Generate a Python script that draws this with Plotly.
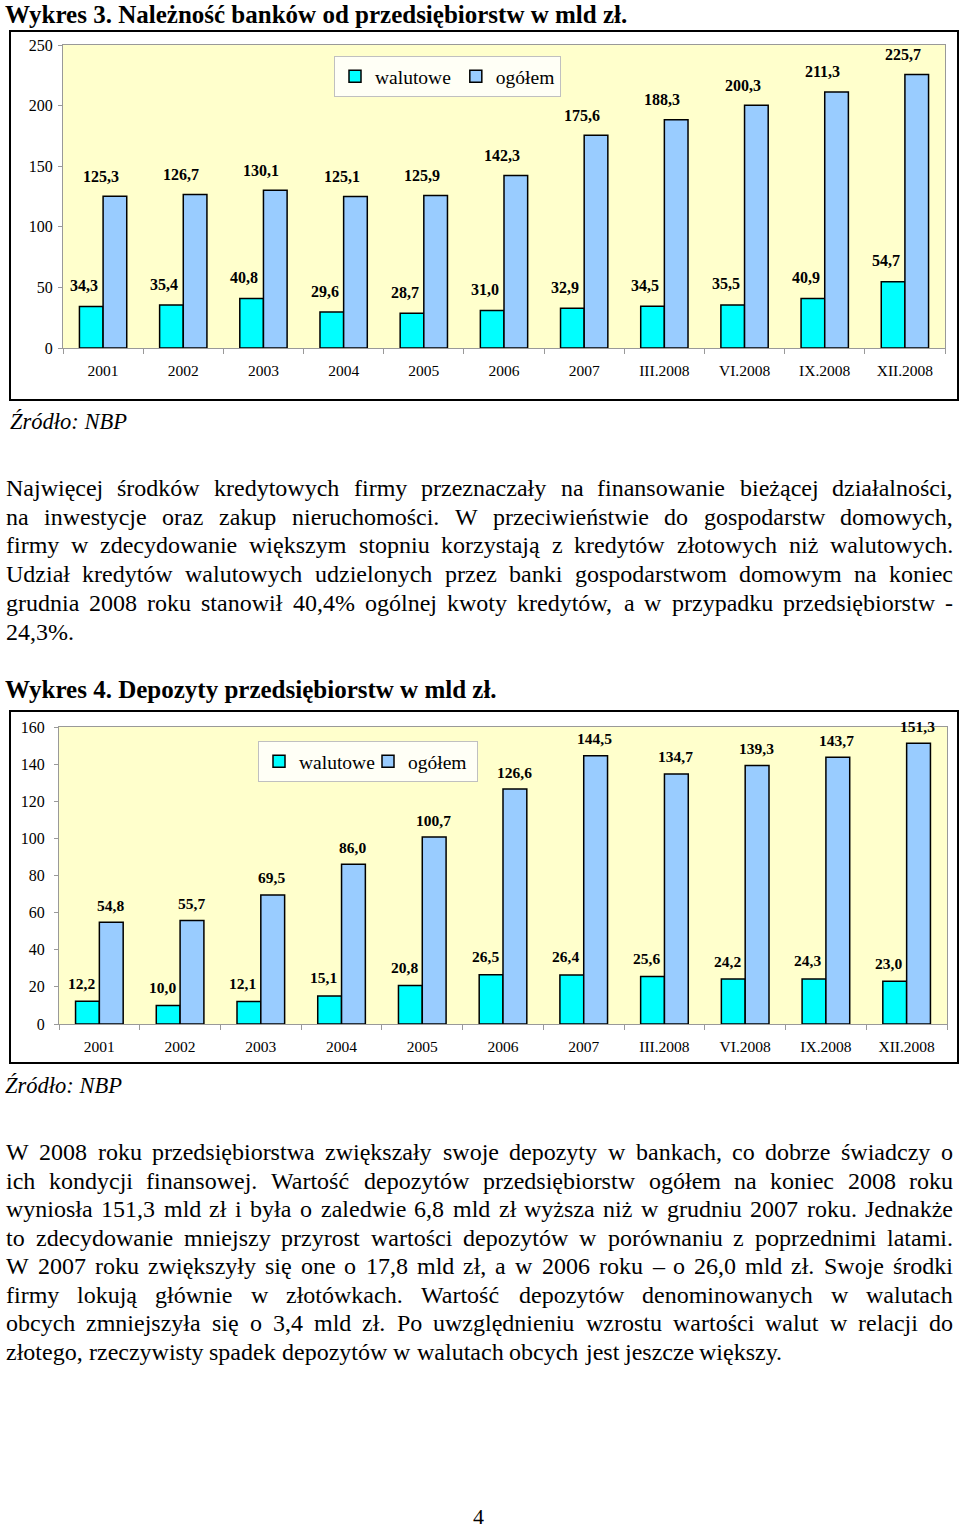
import plotly.graph_objects as go

# ---------------- data ----------------
categories = ["2001", "2002", "2003", "2004", "2005", "2006", "2007",
              "III.2008", "VI.2008", "IX.2008", "XII.2008"]
series_names = ["walutowe", "ogółem"]

loans_fx = [34.3, 35.4, 40.8, 29.6, 28.7, 31.0, 32.9, 34.5, 35.5, 40.9, 54.7]
loans_total = [125.3, 126.7, 130.1, 125.1, 125.9, 142.3, 175.6, 188.3, 200.3, 211.3, 225.7]

dep_fx = [12.2, 10.0, 12.1, 15.1, 20.8, 26.5, 26.4, 25.6, 24.2, 24.3, 23.0]
dep_total = [54.8, 55.7, 69.5, 86.0, 100.7, 126.6, 144.5, 134.7, 139.3, 143.7, 151.3]

title1 = "Wykres 3. Należność banków od przedsiębiorstw w mld zł."
title2 = "Wykres 4. Depozyty przedsiębiorstw w mld zł."
source = "Źródło: NBP"

para1 = [
    "Najwięcej środków kredytowych firmy przeznaczały na finansowanie bieżącej działalności,",
    "na inwestycje oraz zakup nieruchomości. W przeciwieństwie do gospodarstw domowych,",
    "firmy w zdecydowanie większym stopniu korzystają z kredytów złotowych niż walutowych.",
    "Udział kredytów walutowych udzielonych przez banki gospodarstwom domowym na koniec",
    "grudnia 2008 roku stanowił 40,4% ogólnej kwoty kredytów, a w przypadku przedsiębiorstw -",
    "24,3%.",
]
para2 = [
    "W 2008 roku przedsiębiorstwa zwiększały swoje depozyty w bankach, co dobrze świadczy o",
    "ich kondycji finansowej. Wartość depozytów przedsiębiorstw ogółem na koniec 2008 roku",
    "wyniosła 151,3 mld zł i była o zaledwie 6,8 mld zł wyższa niż w grudniu 2007 roku. Jednakże",
    "to zdecydowanie mniejszy przyrost wartości depozytów w porównaniu z poprzednimi latami.",
    "W 2007 roku zwiększyły się one o 17,8 mld zł, a w 2006 roku – o 26,0 mld zł. Swoje środki",
    "firmy lokują głównie w złotówkach. Wartość depozytów denominowanych w walutach",
    "obcych zmniejszyła się o 3,4 mld zł. Po uwzględnieniu wzrostu wartości walut w relacji do",
    "złotego, rzeczywisty spadek depozytów w walutach obcych jest jeszcze większy.",
]
page_number = "4"

# ---------------- layout helpers ----------------
W, H = 960, 1530
FONT = "Liberation Serif"
CYAN = "#00FFFF"
BLUE = "#99CCFF"
PLOT_BG = "#FFFFCC"
GRID = "#999999"


def px(x):
    return x / W


def py(y):
    return 1 - y / H


# Times New Roman / Liberation Serif advance widths (1/1000 em)
_w = {}
_w.update(dict(zip("abcdefghijklmnopqrstuvwxyz",
                   [444, 500, 444, 500, 444, 333, 500, 500, 278, 278, 500, 278, 778,
                    500, 500, 500, 500, 333, 389, 278, 500, 500, 722, 500, 500, 444])))
_w.update(dict(zip("ABCDEFGHIJKLMNOPQRSTUVWXYZ",
                   [722, 667, 667, 722, 611, 556, 722, 722, 333, 389, 722, 611, 889,
                    722, 722, 556, 722, 667, 556, 611, 722, 722, 944, 722, 722, 611])))
_w.update({d: 500 for d in "0123456789"})
_w.update({" ": 250, ",": 250, ".": 250, "%": 833, "-": 333, "–": 500, ":": 278,
           "ą": 444, "ć": 444, "ę": 444, "ł": 278, "ń": 500, "ó": 500, "ś": 389,
           "ź": 444, "ż": 444, "Ł": 611, "Ś": 556, "Ź": 611, "Ż": 611})


def text_width(s, fs):
    return sum(_w.get(ch, 500) for ch in s) * fs / 1000.0


fig = go.Figure()

# ---------------- bars ----------------
bar_line = dict(color="black", width=1.5)
fig.add_trace(go.Bar(x=categories, y=loans_fx, name=series_names[0],
                     marker=dict(color=CYAN, line=bar_line),
                     xaxis="x", yaxis="y", legend="legend"))
fig.add_trace(go.Bar(x=categories, y=loans_total, name=series_names[1],
                     marker=dict(color=BLUE, line=bar_line),
                     xaxis="x", yaxis="y", legend="legend"))
fig.add_trace(go.Bar(x=categories, y=dep_fx, name=series_names[0],
                     marker=dict(color=CYAN, line=bar_line),
                     xaxis="x2", yaxis="y2", legend="legend2"))
fig.add_trace(go.Bar(x=categories, y=dep_total, name=series_names[1],
                     marker=dict(color=BLUE, line=bar_line),
                     xaxis="x2", yaxis="y2", legend="legend2"))

annotations = []


def fmt(v):
    return f"{v:.1f}".replace(".", ",")


def add_labels(values, xref, yref, xshift, yshift, size):
    for i, v in enumerate(values):
        annotations.append(dict(x=i, y=v, xref=xref, yref=yref, text=f"<b>{fmt(v)}</b>",
                                showarrow=False, xanchor="center", yanchor="middle",
                                xshift=xshift, yshift=yshift,
                                font=dict(family=FONT, size=size, color="black"),
                                borderpad=0))


add_labels(loans_fx, "x", "y", -19, 21, 16)
add_labels(loans_total, "x", "y", -2, 20, 16)
add_labels(dep_fx, "x2", "y2", -18, 18, 15.5)
add_labels(dep_total, "x2", "y2", 11, 17, 15.5)


# ---------------- page texts ----------------
def add_text(text, x, y, size, bold=False, italic=False, xanchor="left", yanchor="middle"):
    t = f"<b>{text}</b>" if bold else text
    annotations.append(dict(x=px(x), y=py(y), xref="paper", yref="paper", text=t,
                            showarrow=False, xanchor=xanchor, yanchor=yanchor,
                            borderpad=0,
                            font=dict(family=FONT, size=size, color="black",
                                      style="italic" if italic else "normal")))


add_text(title1, 4, 0, 25, bold=True, yanchor="top")
add_text(source, 9, 421, 22.5, italic=True)
add_text(title2, 4, 690, 25, bold=True)
add_text(source, 4, 1085, 22.5, italic=True)
add_text(page_number, 478, 1516, 22, xanchor="center")

BODY_FS = 24
LEFT, RIGHT = 5, 952


def add_paragraph(lines, y0, step):
    for i, line in enumerate(lines):
        words = line.split(" ")
        y = y0 + i * step
        widths = [text_width(w_, BODY_FS) for w_ in words]
        last = i == len(lines) - 1
        if last or len(words) == 1:
            gap = 250 * BODY_FS / 1000.0
        else:
            gap = (RIGHT - LEFT - sum(widths)) / (len(words) - 1)
        x = LEFT
        for w_, wd in zip(words, widths):
            add_text(w_, x, y, BODY_FS)
            x += wd + gap


add_paragraph(para1, 488, 28.7)
add_paragraph(para2, 1152, 28.5)

# ---------------- frames ----------------
shapes = [
    dict(type="rect", xref="paper", yref="paper", x0=px(10), x1=px(958),
         y0=py(400), y1=py(31), line=dict(color="black", width=2)),
    dict(type="rect", xref="paper", yref="paper", x0=px(10), x1=px(958),
         y0=py(1063), y1=py(711), line=dict(color="black", width=2)),
]

n_cat = len(categories)
axis_common_x = dict(type="category", range=[-0.5, n_cat - 0.5], autorange=False,
                     tickson="boundaries", ticks="outside", ticklen=5,
                     tickcolor=GRID, showline=True, linecolor=GRID, linewidth=1,
                     mirror=True, showgrid=False, zeroline=False, fixedrange=True,
                     tickangle=0, automargin=False,
                     tickfont=dict(family=FONT, size=15.5, color="black"),
                     ticklabelstandoff=8)
axis_common_y = dict(ticks="outside", ticklen=4, tickcolor=GRID, showline=True,
                     linecolor=GRID, linewidth=1, mirror=True, showgrid=False,
                     zeroline=False, fixedrange=True, automargin=False,
                     autorange=False,
                     tickfont=dict(family=FONT, size=16, color="black"))

legend_common = dict(orientation="h", xanchor="left", yanchor="top",
                     bgcolor="#FFFFF6", bordercolor="#C0C0C0", borderwidth=1,
                     font=dict(family=FONT, size=19.5, color="black"),
                     itemwidth=30, itemclick=False, itemdoubleclick=False,
                     traceorder="normal")

fig.update_layout(
    width=W, height=H, autosize=False,
    margin=dict(l=0, r=0, t=0, b=0, pad=0, autoexpand=False),
    paper_bgcolor="white",
    plot_bgcolor=PLOT_BG,
    font=dict(family=FONT, color="black"),
    barmode="group", bargap=0.41, bargroupgap=0,
    xaxis=dict(domain=[px(63), px(945)], anchor="y", **axis_common_x),
    yaxis=dict(domain=[py(348), py(45)], anchor="x", range=[0, 250], dtick=50,
               ticklabelstandoff=2, **axis_common_y),
    xaxis2=dict(domain=[px(59), px(947)], anchor="y2", **axis_common_x),
    yaxis2=dict(domain=[py(1024), py(727)], anchor="x2", range=[0, 160], dtick=20,
                ticklabelstandoff=6, **axis_common_y),
    legend=dict(x=px(334), y=py(56), **legend_common),
    legend2=dict(x=px(258), y=py(741), entrywidth=64, entrywidthmode="pixels",
                 **legend_common),
    annotations=annotations,
    shapes=shapes,
    showlegend=True,
)

fig.write_html("out.html", config={"displayModeBar": False, "responsive": False},
               post_script="document.body.style.margin='0';")
